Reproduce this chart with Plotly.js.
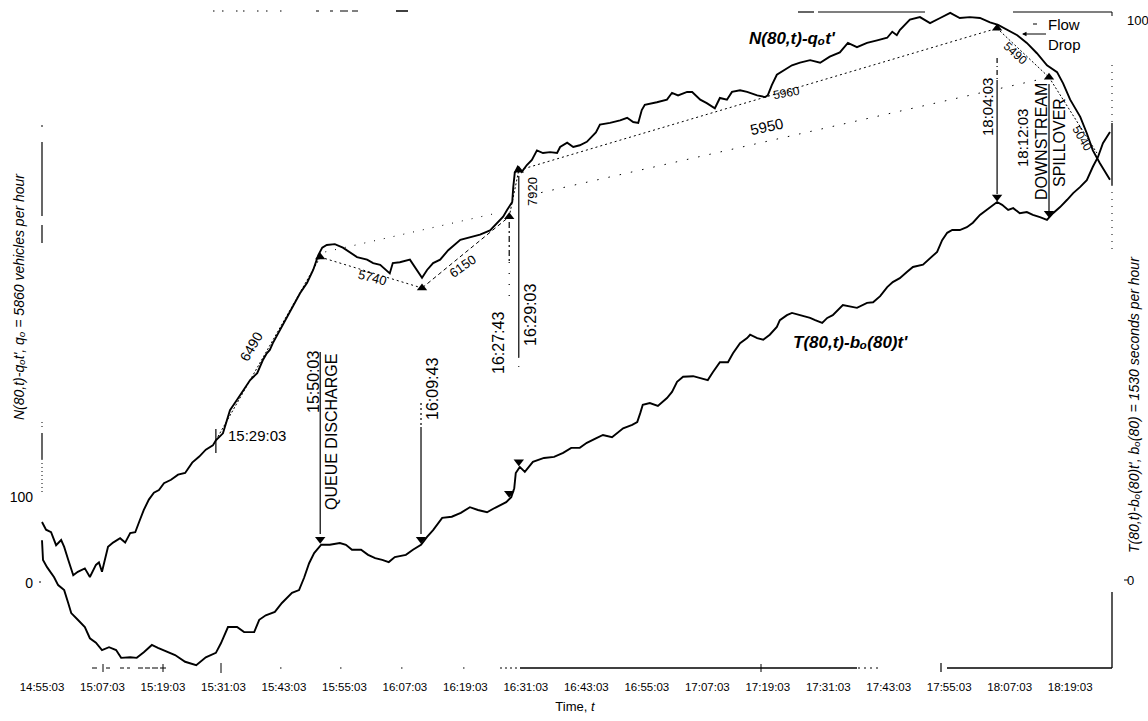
<!DOCTYPE html>
<html>
<head>
<meta charset="utf-8">
<script src="https://cdn.plot.ly/plotly-3.0.1.min.js"></script>
<style>
html,body{margin:0;padding:0;background:#fff;}
#chart{width:1148px;height:721px;}
</style>
</head>
<body>
<div id="chart"></div>
<script>
// ---------------- DATA ----------------
// x values are minutes after 14:55:03
const tickLabels = ['14:55:03','15:07:03','15:19:03','15:31:03','15:43:03','15:55:03','16:07:03','16:19:03','16:31:03','16:43:03','16:55:03','17:07:03','17:19:03','17:31:03','17:43:03','17:55:03','18:07:03','18:19:03'];
const tickMinutes = [0,12,24,36,48,60,72,84,96,108,120,132,144,156,168,180,192,204];

// N(80,t) - q0 t'   (vehicles, left axis)
const nMinutes = [0,0.8,1.8,2.8,3.8,4.4,5.2,6.2,7.1,8.5,9.5,10.7,11.3,11.9,13.1,14.1,15.5,16.5,17.5,18.5,19.4,20.2,21.2,22.2,23.2,24.2,25.6,27.0,28.4,29.8,31.2,32.5,33.9,34.5,35.9,37.3,38.7,39.9,41.3,42.7,43.8,44.6,45.2,45.8,47.2,48.6,49.8,51.2,52.6,53.8,54.8,55.6,56.5,58.1,59.7,61.1,62.5,64.5,65.7,67.1,69.0,69.6,71.0,73.0,74.4,75.4,76.4,77.6,79.0,80.6,83.0,84.9,86.9,88.9,90.3,91.5,92.3,93.3,93.5,93.8,94.4,95.2,96.2,97.2,98.2,99.4,100.8,102.2,102.8,104.2,105.4,106.7,108.1,109.9,110.7,112.7,114.7,116.1,117.3,118.3,119.0,119.6,122.0,124.0,125.0,126.2,128.0,129.0,130.6,131.9,133.5,134.5,135.9,136.9,138.5,139.9,141.9,143.5,144.0,144.8,145.8,147.4,148.8,150.4,152.4,154.4,156.3,158.3,159.9,161.7,163.7,165.7,167.7,168.7,169.6,170.2,172.2,174.2,176.2,178.2,180.2,182.1,184.1,186.1,188.1,189.7,191.5,193.5,195.4,197.4,199.4,201.4,202.6,204.0,206.0,207.3,208.5,209.9,211.9];
const nValues = [71,62,59,44,50,42,27,9,13,17,7,21,24,13,42,47,52,47,58,59,73,85,97,105,108,116,120,126,128,140,147,155,160,166,174,201,213,224,236,244,259,267,271,279,294,309,321,337,349,364,381,390,393,394,390,385,379,376,372,370,360,372,373,376,364,355,364,372,376,387,399,402,405,410,419,426,434,443,460,477,484,478,486,492,503,500,501,500,507,512,507,509,513,524,533,535,538,541,536,535,550,556,559,562,570,567,571,571,562,558,552,564,562,571,573,571,567,565,567,579,591,597,602,605,608,605,612,617,628,623,628,631,634,641,637,643,655,658,651,657,663,657,658,657,652,649,643,637,628,616,602,594,581,562,542,523,503,488,469];

// T(80,t) - b0(80) t'   (seconds, right axis)
const tMinutes = [0,0.2,1.0,2.4,3.2,4.4,5.2,5.8,7.1,8.5,9.5,10.7,11.9,13.3,14.7,15.7,17.5,18.8,20.2,21.8,23.0,25.0,26.4,28.4,30.6,32.5,34.5,35.5,36.9,38.7,40.1,42.1,43.1,44.4,46.2,47.6,49.6,51.0,52.0,53.0,54.0,55.4,57.1,59.1,60.3,61.5,63.3,64.7,66.1,67.5,68.8,70.0,72.2,73.6,75.2,76.4,77.6,79.4,81.3,83.1,84.9,86.5,88.3,89.9,92.1,93.1,93.7,94.0,94.8,95.8,97.4,99.6,101.6,103.4,105.0,106.7,108.1,110.1,111.3,113.1,115.3,117.1,118.1,118.7,119.2,120.6,122.2,124.0,125.0,126.0,127.2,129.2,131.0,132.1,133.1,134.5,136.1,137.1,138.5,139.9,140.5,141.9,143.1,144.4,145.8,146.4,147.8,148.8,150.4,152.4,153.4,154.8,155.8,156.9,158.9,160.3,161.7,163.7,164.9,166.3,167.7,168.8,170.2,171.6,172.8,174.8,176.2,177.6,178.6,179.6,180.6,182.1,183.5,184.7,186.1,187.5,188.7,189.5,190.5,191.7,192.7,194.0,195.4,196.6,198.0,199.4,200.6,202.0,203.4,204.6,206.0,207.3,208.5,209.5,210.5,211.9];
const tValues = [7.1,3.6,2.3,0.5,-0.9,-1.8,-4.1,-5.9,-7.1,-8.4,-10.4,-11.2,-12.5,-12.0,-12.5,-13.9,-13.8,-13.9,-12.9,-11.6,-12.1,-12.9,-13.4,-14.6,-15.2,-13.8,-13.0,-11.3,-8.4,-8.4,-9.3,-9.3,-7.1,-6.3,-5.7,-4.1,-2.3,-1.8,0.4,3.0,4.8,6.3,6.3,6.6,6.3,5.4,5.4,4.5,3.9,3.6,3.2,4.1,4.5,5.4,6.3,7.7,8.9,11.1,11.3,12.0,13.0,12.5,12.1,12.9,13.9,14.8,16.4,19.1,20.2,19.3,21.1,21.8,22.0,22.7,23.6,23.6,24.5,25.4,25.9,25.5,27.1,27.7,28.2,29.8,31.3,31.6,31.1,32.5,33.6,35.4,36.3,36.4,35.9,35.7,37.1,38.9,38.9,40.5,42.3,43.2,43.8,43.2,42.9,43.8,45.2,46.4,47.3,47.7,47.3,46.8,46.4,45.9,46.8,47.3,49.1,48.8,48.6,49.5,49.6,50.7,52.3,53.2,53.9,55.0,55.9,56.3,57.5,58.6,60.7,62.0,62.5,62.5,63.0,63.8,65.2,66.1,67.0,67.5,67.0,66.1,66.4,65.5,65.7,65.2,64.8,64.3,65.5,66.6,67.9,69.1,70.2,71.4,73.8,75.5,78.0,80.0];

// marked events (triangles) on each curve
const nMarkMinutes = [55.2, 75.4, 92.7, 94.6, 189.5, 199.8];
const nMarkValues  = [379, 343, 426, 480, 645, 588];
const tMarkMinutes = [55.2, 75.2, 92.7, 94.6, 189.5, 199.8];
const tMarkValues  = [7.3, 7.3, 15.5, 21.1, 68.4, 65.5];

// fitted flow lines on the N curve: [startMin, startN], [endMin, endN], label (veh/h)
const flowLineLabels = ['6490','5740','6150','','7920','5960','5950','5490','5040'];
const flowLineStart  = [[34.5,166],[55.2,379],[75.4,343],[56.2,385],[92.7,426],[94.6,480],[96.8,451],[189.5,645],[199.8,588]];
const flowLineEnd    = [[55.2,379],[75.4,343],[92.7,426],[90.9,431],[94.6,480],[189.5,645],[199.8,588],[199.8,588],[209.3,500]];
const flowLineDash   = ['2px,2px','2px,3px','4px,3px','1px,9px','2px,2px','2px,3px','1.5px,10px','2px,2px','2px,2px'];

// ---------------- GEOMETRY HELPERS (decoration only) ----------------
const L = 38, R = 1112, T = 11, B = 668;
const px = x => (x - L) / (R - L);
const py = y => (B - y) / (B - T);
const FONT = 'Liberation Sans, Arial, Helvetica, sans-serif';

const shapes = [];
function seg(x0, y0, x1, y1, w, dash) {
  shapes.push({type:'line', xref:'paper', yref:'paper', x0:px(x0), y0:py(y0), x1:px(x1), y1:py(y1),
    line:{color:'#000', width:w || 1, dash:dash || 'solid'}});
}
function vEvent(m, y0, y1, w, dash) {
  shapes.push({type:'line', xref:'x', yref:'paper', x0:m, x1:m, y0:py(y0), y1:py(y1),
    line:{color:'#000', width:w || 1.2, dash:dash || 'solid'}});
}

// fitted flow lines
for (let i = 0; i < flowLineStart.length; i++) {
  shapes.push({type:'line', xref:'x', yref:'y', x0:flowLineStart[i][0], y0:flowLineStart[i][1],
    x1:flowLineEnd[i][0], y1:flowLineEnd[i][1], line:{color:'#000', width:1, dash:flowLineDash[i]}});
}

// event vertical lines
vEvent(55.2, 352, 534, 1.2);                 // 15:50:03
vEvent(75.2, 403, 427, 1.2, '2px,3px');      // 16:09:43 dotted top
vEvent(75.2, 427, 534, 1.2);
vEvent(92.7, 222, 262, 1.2, '6px,3px,2px,3px'); // 16:27:43
vEvent(92.7, 262, 300, 1.2, '1px,10px');
vEvent(94.6, 176, 357, 1.2);                 // 16:29:03
vEvent(94.6, 357, 368, 1, '1px,8px');
vEvent(189.5, 58, 80, 1.2, '5px,3px,1px,3px'); // 18:04:03
vEvent(189.5, 80, 194, 1.2);
vEvent(199.8, 84, 211, 1.2);                 // 18:12:03
vEvent(34.5, 429, 453, 1.2);                 // 15:29:03 tick
seg(1033, 24, 1037, 24, 1);                  // small dash before the flow-drop pointer

// broken frame of the scanned figure
// bottom
[[92,97],[106,110],[120,124],[127,130],[138,143],[145,150],[152,158],[160,166]].forEach(s=>seg(s[0],B,s[1],B,1));
seg(103,664,103,672,1); seg(163,664,163,672,1); seg(221,663,221,673,1);
[280,340,401,463].forEach(x=>seg(x,B,x+1.5,B,1.2));
seg(500,B,517,B,1,'2px,3px'); seg(520,B,857,B,1.3); seg(761,664,761,672,1);
seg(858,B,882,B,1,'2px,4px'); seg(941,663,941,672,1.2);
seg(947,B,1112,B,1.3);
// right
seg(1112,B,1112,592,1.3); seg(1112,65,1112,123,1,'1px,6px'); seg(1112,123,1112,185,1.3);
seg(1112,185,1112,250,1,'1px,6px'); seg(1112,12,1112,16,1); seg(1124,580,1128,580,1);
// left
seg(42,125,42,127,1); seg(42,142,42,216,1.2); seg(42,225,42,243,1.2);
seg(42,422,42,429,1,'1px,3px'); seg(42,433,42,459,1.2); seg(42,459,42,494,1,'1px,3px'); seg(39,582,41,582,1.2);
// top
[213,222,236,243,257,266,280].forEach(x=>seg(x,T,x+1.5,T,1));
seg(316,T,319,T,1); seg(330,T,333,T,1); seg(340,T,348,T,1); seg(352,T,358,T,1); seg(396,T,408,T,1.5);
seg(798,T+1,814,T+1,1.2); seg(818,T+1,925,T+1,1.2); seg(1013,T+1,1112,T+1,1.2);

// ---------------- ANNOTATIONS ----------------
const annotations = [];
function ann(text, x, y, size, angle, opt) {
  opt = opt || {};
  annotations.push(Object.assign({xref:'paper', yref:'paper', x:px(x), y:py(y), text:text, showarrow:false,
    textangle:angle || 0, xanchor:'center', yanchor:'middle', font:{family:FONT, size:size, color:'#000'}}, opt));
}
ann('15:29:03', 257, 435, 15);
ann(flowLineLabels[0], 251, 347, 14, -60);
ann(flowLineLabels[1], 372, 277, 13, 15);
ann(flowLineLabels[2], 462, 266, 13, -35);
ann('15:50:03', 313, 382, 16, -90);
ann('QUEUE DISCHARGE', 331, 432, 16, -90);
ann('16:09:43', 432, 389, 16, -90);
ann('16:27:43', 498, 343, 16, -90);
ann('16:29:03', 530, 315, 16, -90);
ann(flowLineLabels[4], 532, 192, 13, -90);
ann(flowLineLabels[5], 786, 93, 12, -10);
ann(flowLineLabels[6], 766, 126, 15, -12);
ann('<b><i>N(80,t)-qₒt\'</i></b>', 792, 38, 17);
ann('<b><i>T(80,t)-bₒ(80)t\'</i></b>', 850, 342, 17);
// "Flow Drop" with its pointer to the curve
annotations.push({xref:'paper', yref:'paper', x:px(1022), y:py(34), ax:42, ay:0, text:'Flow<br>Drop',
  align:'left', showarrow:true, arrowhead:2, arrowsize:0.9, arrowwidth:1, arrowcolor:'#000',
  font:{family:FONT, size:15, color:'#000'}});
ann(flowLineLabels[7], 1015, 53, 12, 42);
ann('18:04:03', 987, 107, 15, -90);
ann('18:12:03', 1022, 138, 15, -90);
ann('DOWNSTREAM', 1041, 142, 16, -90);
ann('SPILLOVER', 1059, 143, 16, -90);
ann(flowLineLabels[8], 1082, 138, 12, 60);
ann('<i>N(80,t)-qₒt\', qₒ = 5860 vehicles per hour</i>', 19, 297, 14, -90);
ann('<i>T(80,t)-bₒ(80)t\', bₒ(80) = 1530 seconds per hour</i>', 1134, 405, 14, -90);

// ---------------- TRACES ----------------
const traces = [
  {x:nMinutes, y:nValues, type:'scatter', mode:'lines', line:{color:'#000', width:1.9}, hoverinfo:'skip', name:'N(80,t)-q0t\''},
  {x:tMinutes, y:tValues, type:'scatter', mode:'lines', yaxis:'y2', line:{color:'#000', width:1.9}, hoverinfo:'skip', name:'T(80,t)-b0(80)t\''},
  {x:nMarkMinutes, y:nMarkValues, type:'scatter', mode:'markers', marker:{symbol:'triangle-up', size:9, color:'#000'}, hoverinfo:'skip'},
  {x:tMarkMinutes, y:tMarkValues, type:'scatter', mode:'markers', yaxis:'y2', marker:{symbol:'triangle-down', size:9, color:'#000'}, hoverinfo:'skip'}
];

const layout = {
  width:1148, height:721,
  margin:{l:L, r:1148-R, t:T, b:721-B},
  paper_bgcolor:'#fff', plot_bgcolor:'#fff',
  showlegend:false,
  font:{family:FONT, color:'#000'},
  xaxis:{range:[-0.794, 212.3], tickvals:tickMinutes, ticktext:tickLabels, tickangle:0,
    showgrid:false, zeroline:false, showline:false, ticks:'', tickfont:{size:11.5, family:FONT},
    ticklabelstandoff:10, automargin:false,
    title:{text:'Time, <i>t</i>', font:{size:13, family:FONT}, standoff:10}},
  yaxis:{range:[-98.84, 665.12], tickvals:[0,100], ticktext:['0','100'],
    showgrid:false, zeroline:false, showline:false, ticks:'', tickfont:{size:14, family:FONT},
    ticklabelstandoff:4, automargin:false},
  yaxis2:{range:[-15.71, 101.61], overlaying:'y', side:'right', tickvals:[0,100], ticktext:['0','100'],
    showgrid:false, zeroline:false, showline:false, ticks:'', tickfont:{size:13, family:FONT},
    ticklabelstandoff:14, automargin:false},
  shapes:shapes,
  annotations:annotations
};

Plotly.newPlot('chart', traces, layout, {staticPlot:true, displayModeBar:false});
</script>
</body>
</html>
